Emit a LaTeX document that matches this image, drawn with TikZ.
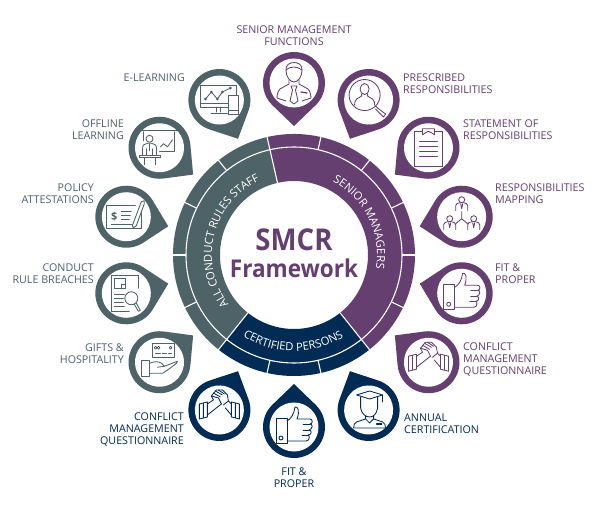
\documentclass[tikz,border=0pt]{standalone}
\usepackage{fontspec}
\setmainfont{Open Sans}
\newfontfamily\headfont[FakeStretch=0.92]{Open Sans}
\usetikzlibrary{decorations.text}
\definecolor{plum}{HTML}{643F70}
\definecolor{slate}{HTML}{4E6367}
\definecolor{navy}{HTML}{002B54}
\tikzset{
  lbl/.style={font=\fontsize{10.7}{12}\selectfont,inner sep=0pt},
  ringline/.style={white,line width=1.1pt},
  iconline/.style={line width=0.85pt,line join=round,line cap=round},
  droplet/.pic={
    \fill (0,-43) -- (-45:31) arc (-45:225:31) -- cycle;
    \fill[white] (0,0) circle (24.5);
  },
  iconman/.pic={
    \draw[iconline] (-8,13) .. controls (-9,23) and (9,23) .. (8,13) .. controls (8,6) and (4,1) .. (0,1) .. controls (-4,1) and (-8,6) .. (-8,13);
    \draw[iconline] (-8,13) .. controls (-4,17) and (3,17) .. (8,13);
    \draw[iconline] (-5,3) -- (-5,-1) -- (-14,-6) .. controls (-16,-8) and (-17,-12) .. (-17,-15) -- (-8,-18);
    \draw[iconline] (5,3) -- (5,-1) -- (14,-6) .. controls (16,-8) and (17,-12) .. (17,-15) -- (8,-18);
    \draw[iconline] (-3,-3) -- (3,-3) -- (1.5,-7) -- (4,-18) -- (0,-21) -- (-4,-18) -- (-1.5,-7) -- cycle;
    \draw[iconline,line width=1.3pt] (7,-9) -- (13,-10);
  },
  iconlens/.pic={
    \draw[iconline] (-4,5) circle (15.5);
    \draw[iconline] (-4,11) circle[x radius=4.5,y radius=5.5];
    \draw[iconline] (-7,6) -- (-7,4) -- (-12,1) .. controls (-14,-1) and (-14,-3) .. (-14,-5);
    \draw[iconline] (-1,6) -- (-1,4) -- (4,1) .. controls (6,-1) and (6,-3) .. (6,-5);
    \draw[iconline] (7,-6) -- (9,-8) -- (17,-14) -- (15,-17) -- (7,-9);
  },
  iconclip/.pic={
    \draw[iconline] (-6,16) -- (-14,16) -- (-14,-19) -- (14,-19) -- (14,16) -- (6,16);
    \draw[iconline] (-6,13) -- (-6,19) -- (6,19) -- (6,13) -- (3,15) .. controls (1,17) and (-1,17) .. (-3,15) -- cycle;
    \draw[iconline] (-9,6) -- (9,6);
    \draw[iconline] (-9,1) -- (9,1);
    \draw[iconline] (-9,-4) -- (9,-4);
    \draw[iconline] (-9,-9) -- (9,-9);
  },
  smallman/.pic={
    \draw[iconline] (0,0) circle (3);
    \draw[iconline] (-6,-11) -- (-6,-6) .. controls (-6,-4) and (-4,-3.5) .. (-2,-3);
    \draw[iconline] (6,-11) -- (6,-6) .. controls (6,-4) and (4,-3.5) .. (2,-3);
    \draw[iconline] (-1,-4) -- (0,-9) -- (1,-4);
  },
  iconorg/.pic={
    \pic at (0,17) {smallman};
    \pic at (-12,-2) {smallman};
    \pic at (12,-2) {smallman};
    \draw[iconline] (0,5) -- (0,-2) (-6,-7) -- (0,-2) -- (6,-7);
  },
  iconthumb/.pic={
    \draw[iconline] (-18,9) -- (-7,9) -- (-7,-16) -- (-18,-16) -- cycle;
    \draw[iconline] (-13,-11) circle (2);
    \draw[iconline] (-7,6) .. controls (-3,8) and (0,13) .. (1,20) .. controls (4,21) and (6,16) .. (3,8) -- (16,8) .. controls (19,8) and (19,3) .. (16,3) .. controls (19,3) and (19,-2) .. (15,-3) .. controls (18,-3) and (18,-8) .. (14,-8) .. controls (16,-8) and (16,-14) .. (12,-14) -- (-7,-14);
    \draw[iconline] (9,3) -- (16,3) (9,-3) -- (15,-3) (8,-8) -- (14,-8);
  },
  iconshake/.pic={
    \draw[iconline] (-20,6) -- (-12,8) -- (-12,-7) -- (-20,-9) -- cycle (-16,7) -- (-16,-8);
    \draw[iconline] (20,6) -- (12,8) -- (12,-7) -- (20,-9) -- cycle (16,7) -- (16,-8);
    \draw[iconline] (-12,-5) -- (2,6) (12,-5) -- (6,2);
    \draw[iconline] (-12,6) -- (-6,10) (12,6) -- (9,9);
    \draw[iconline] (-6,10) -- (-8,14) -- (-3,20) -- (3,20) -- (8,15) -- (9,9) -- (4,5);
    \draw[iconline] (-6,17) -- (1,13) (-4,19) -- (3,15) (-1,20) -- (5,16) (-8,14) -- (-1,12) -- (2,6);
  },
  icongrad/.pic={
    \draw[iconline] (-12,15) -- (1,19) -- (14,15) -- (1,11) -- cycle;
    \draw[iconline] (14,15) -- (14,8);
    \draw[iconline] (-8,13) -- (-8,2) .. controls (-7,-4) and (-3,-7) .. (1,-7) .. controls (5,-7) and (8,-4) .. (9,2) -- (9,13);
    \draw[iconline] (-3,-6) -- (-3,-9) -- (-12,-12) .. controls (-14,-13) and (-15,-15) .. (-15,-18) -- (17,-18) .. controls (17,-15) and (16,-13) .. (14,-12) -- (5,-9) -- (5,-6);
    \draw[iconline] (-3,-9) -- (1,-13) -- (5,-9);
    \draw[iconline,line width=1.2pt] (8,-14) -- (13,-14);
  },
  iconscreen/.pic={
    \draw[iconline] (9,-7) -- (-19,-7) -- (-19,15) -- (17,15) -- (17,5);
    \draw[iconline] (-19,-3) -- (9,-3);
    \draw[iconline] (-3,-7) -- (-3,-12) (1,-7) -- (1,-12) (-8,-13) -- (8,-13);
    \draw[iconline] (9,5) rectangle (19,-14);
    \draw[iconline] (9,-10) -- (19,-10);
    \draw[iconline] (-14,1) -- (-8,8) -- (-2,1) -- (3,8) -- (11,12);
    \fill (-14,1) circle (1.5) (-8,8) circle (1.5) (-2,1) circle (1.5) (3,8) circle (1.5) (11,12) circle (1.5);
  },
  iconboard/.pic={
    \draw[iconline,line width=1.1pt] (-19,17) -- (18,17);
    \draw[iconline] (-16,16) -- (-16,7) (15,16) -- (15,-4) -- (0,-4);
    \draw[iconline] (-10,9) circle (3.5);
    \draw[iconline] (-17,-7) -- (-17,-1) .. controls (-17,3) and (-15,4) .. (-12,4.5) -- (-8,4.5) .. controls (-5,4) and (-3,3) .. (-3,-1) -- (-3,-7);
    \draw[iconline] (-13,-7) -- (-13,-1) (-7,-7) -- (-7,-1) (-10,4) -- (-10,-3);
    \draw[iconline] (-20,-8) rectangle (1,-10);
    \draw[iconline] (-15,-10) -- (-15,-17) (-4,-10) -- (-4,-17);
    \draw[iconline] (1,1) -- (4,4) -- (8,1) -- (13,8);
  },
  iconcheque/.pic={
    \draw[iconline] (9,11) -- (-20,11) -- (-20,-12) -- (15,-12) -- (15,6);
    \node[font=\bfseries\fontsize{11}{11}\selectfont,inner sep=0pt] (dollar) at (-12,0) {\$};
    \draw[iconline] (-5,5) -- (5,5) (-5,1) -- (4,1) (-5,-3) -- (3,-3);
    \draw[iconline] (-15,-8) -- (6,-8);
    \draw[iconline] (6,-9) -- (15,15) -- (18,16) -- (18,13) -- (10,-9) -- (7,-11) -- cycle;
  },
  icondoc/.pic={
    \draw[iconline] (-15,-18) -- (-15,18) -- (12,18) -- (12,5);
    \draw[iconline] (-15,-18) -- (3,-18);
    \draw[iconline] (-12,15) rectangle (-1,5);
    \draw[iconline] (-5,9) -- (-1,9) (-5,9) -- (-5,5);
    \draw[iconline] (-12,-1) -- (-2,-1) (-12,-5) -- (-3,-5) (-12,-9) -- (-3,-9) (-12,-13) -- (-2,-13);
    \draw[iconline] (5,-5) circle (6.5);
    \draw[iconline] (8,-11) -- (12,-18) -- (14,-17) -- (10,-10);
  },
  iconhand/.pic={
    \draw[iconline] (-7,5) rectangle (15,19);
    \draw[iconline] (-4,14.5) circle (1.4) (-1,14.5) circle (1.4) (11,14.5) circle (1.4);
    \draw[iconline] (-4,9) -- (1,9) (3,9) -- (7,9) (9,9) -- (12,9);
    \draw[iconline] (-18,2) rectangle (-10,-14);
    \draw[iconline] (-10,-1) .. controls (-5,1) and (-1,1) .. (2,-1) -- (5,-4) -- (-2,-5);
    \draw[iconline] (5,-4) -- (18,1) -- (17,-1) .. controls (12,-5) and (8,-8) .. (3,-11) -- (-10,-11);
  }
}
\begin{document}
\begin{tikzpicture}[x=1pt,y=1pt]
\path[fill=white,use as bounding box] (-294,-257) rectangle (306,255);
% ring
\fill[plum] (102.86:121) arc (102.86:-51.43:121) -- (-51.43:74) arc (-51.43:102.86:74) -- cycle;
\fill[navy] (-51.43:121) arc (-51.43:-128.57:121) -- (-128.57:74) arc (-128.57:-51.43:74) -- cycle;
\fill[slate] (-128.57:121) arc (-128.57:-257.14:121) -- (102.86:74) arc (102.86:231.43:74) -- cycle;
\draw[ringline] (0,0) circle (108);
\draw[ringline] (102.86:74) -- (102.86:122);
\draw[ringline] (-51.43:74) -- (-51.43:122);
\draw[ringline] (-128.57:74) -- (-128.57:122);
\draw[ringline] (77.14:108) -- (77.14:122);
\draw[ringline] (51.43:108) -- (51.43:122);
\draw[ringline] (25.71:108) -- (25.71:122);
\draw[ringline] (0:108) -- (0:122);
\draw[ringline] (-25.71:108) -- (-25.71:122);
\draw[ringline] (-77.14:108) -- (-77.14:122);
\draw[ringline] (-102.86:108) -- (-102.86:122);
\draw[ringline] (-154.29:108) -- (-154.29:122);
\draw[ringline] (180:108) -- (180:122);
\draw[ringline] (154.29:108) -- (154.29:122);
\draw[ringline] (128.57:108) -- (128.57:122);
\path[postaction={decorate,decoration={text along path,text align=center,text={|\fontsize{11.3}{11}\selectfont\color{white}|SENIOR MANAGERS}}}] (96:83) arc (96:-43:83);
\path[postaction={decorate,decoration={text along path,text align=center,text={|\fontsize{11.3}{11}\selectfont\color{white}|ALL CONDUCT RULES STAFF}}}] (230:82) arc (230:102:82);
\path[postaction={decorate,decoration={text along path,text align=center,text={|\fontsize{11.3}{11}\selectfont\color{white}|CERTIFIED PERSONS}}}] (-130:96) arc (-130:-51:96);
\node[text=plum,font=\fontsize{30}{30}\headfont\bfseries,inner sep=0pt] (smcr) at (0,15) {SMCR};
\node[text=plum,font=\fontsize{24.5}{24.5}\headfont\bfseries,inner sep=0pt] (framework) at (0,-13) {Framework};
% pins
\pic[color=plum,rotate=0] at (90:172) {droplet};
\pic[color=plum,rotate=-25.71] at (64.29:172) {droplet};
\pic[color=plum,rotate=-51.43] at (38.57:172) {droplet};
\pic[color=plum,rotate=-77.14] at (12.86:172) {droplet};
\pic[color=plum,rotate=-102.86] at (-12.86:172) {droplet};
\pic[color=plum,rotate=-128.57] at (-38.57:172) {droplet};
\pic[color=navy,rotate=-154.29] at (-64.29:172) {droplet};
\pic[color=navy,rotate=180] at (-90:172) {droplet};
\pic[color=navy,rotate=154.29] at (-115.71:172) {droplet};
\pic[color=slate,rotate=128.57] at (-141.43:172) {droplet};
\pic[color=slate,rotate=102.86] at (-167.14:172) {droplet};
\pic[color=slate,rotate=77.14] at (167.14:172) {droplet};
\pic[color=slate,rotate=51.43] at (141.43:172) {droplet};
\pic[color=slate,rotate=25.71] at (115.71:172) {droplet};
% icons
\pic[color=plum] at (90:172) {iconman};
\pic[color=plum] at (64.29:172) {iconlens};
\pic[color=plum] at (38.57:172) {iconclip};
\pic[color=plum] at (12.86:172) {iconorg};
\pic[color=plum] at (-12.86:172) {iconthumb};
\pic[color=plum] at (-38.57:172) {iconshake};
\pic[color=navy] at (-64.29:172) {icongrad};
\pic[color=navy] at (-90:172) {iconthumb};
\pic[color=navy] at (-115.71:172) {iconshake};
\pic[color=slate] at (-141.43:172) {iconhand};
\pic[color=slate] at (-167.14:172) {icondoc};
\pic[color=slate] at (167.14:172) {iconcheque};
\pic[color=slate] at (141.43:172) {iconboard};
\pic[color=slate] at (115.71:172) {iconscreen};
% labels
\node[lbl,text=plum,align=center] (smf) at (0,219) {SENIOR MANAGEMENT\\FUNCTIONS};
\node[lbl,text=plum,align=left,anchor=west] (prescribed) at (109,171) {PRESCRIBED\\RESPONSIBILITIES};
\node[lbl,text=plum,align=left,anchor=west] (statement) at (169,125) {STATEMENT OF\\RESPONSIBILITIES};
\node[lbl,text=plum,align=left,anchor=west] (mapping) at (201,61) {RESPONSIBILITIES\\MAPPING};
\node[lbl,text=plum,align=left,anchor=west] (fitsm) at (201,-19) {FIT \&\\PROPER};
\node[lbl,text=plum,align=left,anchor=west] (conflictsm) at (169,-105) {CONFLICT\\MANAGEMENT\\QUESTIONNAIRE};
\node[lbl,text=navy,align=left,anchor=west] (annual) at (110,-169) {ANNUAL\\CERTIFICATION};
\node[lbl,text=navy,align=center] (fitcp) at (0,-223) {FIT \&\\PROPER};
\node[lbl,text=navy,align=right,anchor=east] (conflictcp) at (-110,-175) {CONFLICT\\MANAGEMENT\\QUESTIONNAIRE};
\node[lbl,text=slate,align=right,anchor=east] (gifts) at (-170,-99) {GIFTS \&\\HOSPITALITY};
\node[lbl,text=slate,align=right,anchor=east] (conduct) at (-200,-19) {CONDUCT\\RULE BREACHES};
\node[lbl,text=slate,align=right,anchor=east] (policy) at (-200,61) {POLICY\\ATTESTATIONS};
\node[lbl,text=slate,align=right,anchor=east] (offline) at (-170,125) {OFFLINE\\LEARNING};
\node[lbl,text=slate,align=right,anchor=east] (elearning) at (-109,177) {E-LEARNING};
\end{tikzpicture}
\end{document}
